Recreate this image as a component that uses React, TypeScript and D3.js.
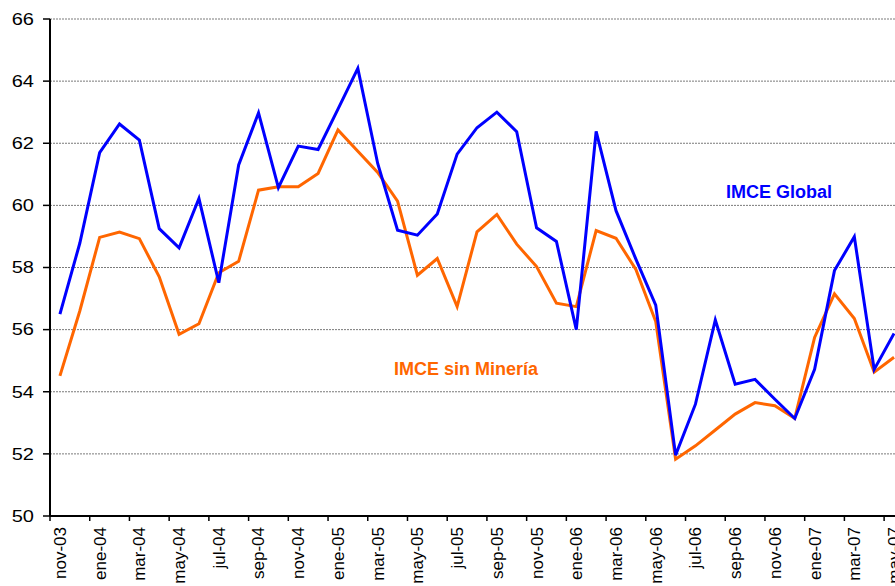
import React from "react";
import * as d3 from "d3";

const months = [
  "nov-03", "dic-03", "ene-04", "feb-04", "mar-04", "abr-04", "may-04", "jun-04", "jul-04", "ago-04",
  "sep-04", "oct-04", "nov-04", "dic-04", "ene-05", "feb-05", "mar-05", "abr-05", "may-05", "jun-05",
  "jul-05", "ago-05", "sep-05", "oct-05", "nov-05", "dic-05", "ene-06", "feb-06", "mar-06", "abr-06",
  "may-06", "jun-06", "jul-06", "ago-06", "sep-06", "oct-06", "nov-06", "dic-06", "ene-07", "feb-07",
  "mar-07", "abr-07", "may-07",
];

const imceGlobal = [
  56.5, 58.78, 61.7, 62.62, 62.1, 59.25, 58.63, 60.22, 57.51, 61.3,
  62.98, 60.57, 61.91, 61.8, 63.1, 64.41, 61.35, 59.2, 59.04, 59.72,
  61.65, 62.5, 63.0, 62.37, 59.28, 58.84, 56.0, 62.38, 59.83, 58.27,
  56.79, 51.96, 53.6, 56.31, 54.24, 54.4, 53.76, 53.14, 54.72, 57.9,
  58.99, 54.72, 55.88,
];

const imceSinMineria = [
  54.51, 56.6, 58.97, 59.14, 58.93, 57.7, 55.85, 56.19, 57.83, 58.2,
  60.49, 60.6, 60.6, 61.03, 62.43, 61.74, 61.06, 60.14, 57.75, 58.29,
  56.74, 59.15, 59.71, 58.75, 58.03, 56.85, 56.74, 59.19, 58.94, 57.94,
  56.26, 51.83, 52.26, 52.77, 53.28, 53.65, 53.55, 53.14, 55.75, 57.15,
  56.36, 54.63, 55.11,
];

const yTicks = [50, 52, 54, 56, 58, 60, 62, 64, 66];

const W = 895;
const H = 586;
const left = 50;
const top = 19;
const bottom = 516;
const step = 19.86;

export default function App() {
  const x = d3
    .scaleBand<string>()
    .domain(months)
    .range([left, left + months.length * step])
    .padding(0);
  const y = d3.scaleLinear().domain([50, 66]).range([bottom, top]);
  const cx = (m: string) => (x(m) as number) + x.bandwidth() / 2;

  const line = d3
    .line<number>()
    .x((_, i) => cx(months[i]))
    .y((d) => y(d));

  const labeled = months.filter((_, i) => i % 2 === 0);

  return (
    <div style={{ position: "absolute", left: 0, top: 0, width: W, height: H }}>
      <svg width={W} height={H} style={{ display: "block", fontFamily: "Arial, 'Liberation Sans', sans-serif" }}>
        <rect x={0} y={0} width={W} height={H} fill="#fff" />
        {yTicks
          .filter((t) => t !== 50)
          .map((t) => (
            <line
              key={"g" + t}
              x1={left}
              x2={W}
              y1={y(t)}
              y2={y(t)}
              stroke="#7a7a7a"
              strokeWidth={1}
              strokeDasharray="2,1"
            />
          ))}
        {yTicks.map((t) => (
          <g key={"y" + t}>
            <line x1={left - 7} x2={left} y1={y(t)} y2={y(t)} stroke="#000" strokeWidth={1.5} />
            <text
              transform={`translate(34,${y(t)}) scale(1.25,1)`}
              textAnchor="end"
              dy="0.36em"
              fontSize={16}
              fill="#000"
            >
              {t}
            </text>
          </g>
        ))}
        {labeled.map((m) => (
          <g key={"x" + m}>
            <line
              x1={x(m) as number}
              x2={x(m) as number}
              y1={bottom}
              y2={bottom + 5}
              stroke="#000"
              strokeWidth={1.5}
            />
            <text
              transform={`translate(${cx(m)},${bottom + 11}) rotate(-90)`}
              textAnchor="end"
              dy="0.35em"
              fontSize={17}
              fill="#000"
            >
              {m}
            </text>
          </g>
        ))}
        <line x1={left} x2={left} y1={top} y2={bottom} stroke="#000" strokeWidth={2} />
        <line x1={left} x2={W} y1={bottom} y2={bottom} stroke="#000" strokeWidth={2} />
        <path d={line(imceSinMineria) || ""} fill="none" stroke="#FF6600" strokeWidth={3} strokeLinejoin="miter" />
        <path d={line(imceGlobal) || ""} fill="none" stroke="#0000FF" strokeWidth={3} strokeLinejoin="miter" />
        <text x={726} y={198} fontSize={18} fontWeight="bold" fill="#0000FF">
          IMCE Global
        </text>
        <text x={394} y={375} fontSize={18} fontWeight="bold" fill="#FF6600">
          IMCE sin Minería
        </text>
      </svg>
    </div>
  );
}
